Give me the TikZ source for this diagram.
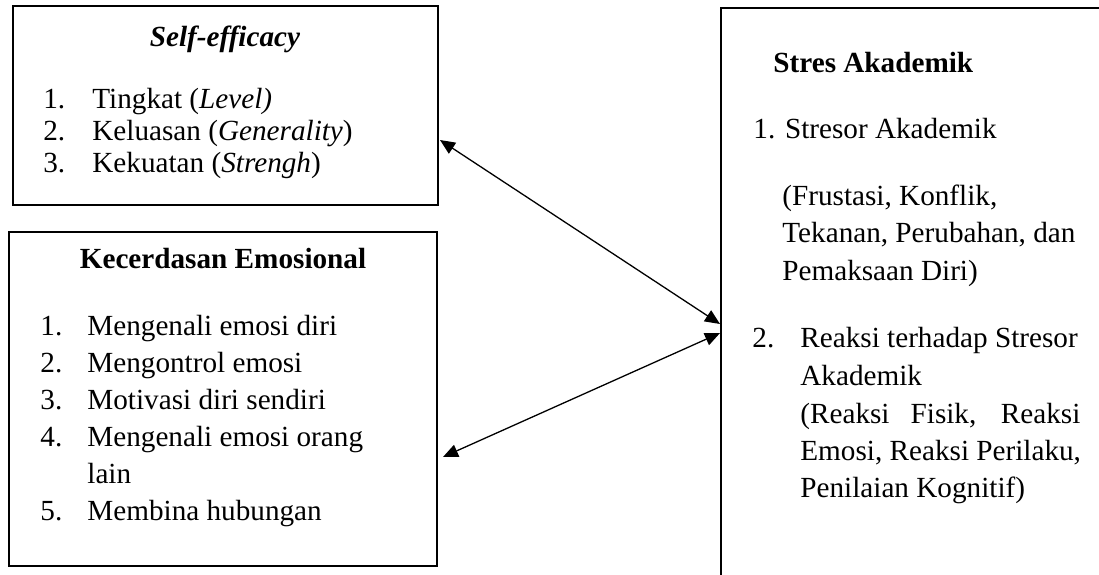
\documentclass[tikz,border=0pt]{standalone}
\usepackage{fontspec}
\setmainfont{Liberation Serif}
\usetikzlibrary{arrows.meta,calc}
\begin{document}
\begin{tikzpicture}[x=0.5pt,y=-0.5pt,
  box/.style={draw, line width=1.2pt, inner sep=0pt, outer sep=0pt, anchor=north west},
  txt/.style={anchor=base west, inner sep=0pt, font=\fontsize{14.6}{17}\selectfont},
  con/.style={line width=0.65pt, {Triangle[length=7.5pt,width=6.5pt]}-{Triangle[length=7.5pt,width=6.5pt]}}]
\clip (0,0) rectangle (1099,574);
% boxes
\node[box, minimum width=212.5pt, minimum height=99.5pt] (se) at (13,6) {};
\node[box, minimum width=214pt, minimum height=167pt] (ke) at (9,232) {};
\node[box, minimum width=200pt, minimum height=300pt] (sa) at (721,8) {};
% Self-efficacy
\node[txt, anchor=base] (se-t) at (225,46) {\textbf{\textit{Self-efficacy}}};
\node[txt] (se-n1) at (43,108) {1.};
\node[txt] (se-1) at (92,108) {Tingkat (\textit{Level)}};
\node[txt] (se-n2) at (43,140) {2.};
\node[txt] (se-2) at (92,140) {Keluasan (\textit{Generality})};
\node[txt] (se-n3) at (43,172) {3.};
\node[txt] (se-3) at (92,172) {Kekuatan (\textit{Strengh})};
% Kecerdasan Emosional
\node[txt, anchor=base] (ke-t) at (223,268) {\textbf{Kecerdasan Emosional}};
\node[txt] (ke-n1) at (40,335) {1.};
\node[txt] (ke-1) at (87,335) {Mengenali emosi diri};
\node[txt] (ke-n2) at (40,372) {2.};
\node[txt] (ke-2) at (87,372) {Mengontrol emosi};
\node[txt] (ke-n3) at (40,409) {3.};
\node[txt] (ke-3) at (87,409) {Motivasi diri sendiri};
\node[txt] (ke-n4) at (40,446) {4.};
\node[txt] (ke-4) at (87,446) {Mengenali emosi orang};
\node[txt] (ke-4b) at (87,483) {lain};
\node[txt] (ke-n5) at (40,520) {5.};
\node[txt] (ke-5) at (87,520) {Membina hubungan};
% Stres Akademik
\node[txt] (sa-t) at (773,72) {\textbf{Stres Akademik}};
\node[txt] (sa-1) at (753,138) {1. Stresor Akademik};
\node[txt] (sa-1a) at (782,205) {(Frustasi, Konflik,};
\node[txt] (sa-1b) at (782,242) {Tekanan, Perubahan, dan};
\node[txt] (sa-1c) at (782,280) {Pemaksaan Diri)};
\node[txt] (sa-n2) at (752,347) {2.};
\node[txt] (sa-2) at (800,347) {Reaksi terhadap Stresor};
\node[txt] (sa-2a) at (800,385) {Akademik};
\node[txt] (sa-2b) at (800,423) {\makebox[140pt][s]{(Reaksi Fisik, Reaksi}};
\node[txt] (sa-2c) at (800,460) {Emosi, Reaksi Perilaku,};
\node[txt] (sa-2d) at (800,497) {Penilaian Kognitif)};
% connectors
\draw[con] ($(se.east)+(2,34.5)$) -- ($(sa.west)+(-1,16)$);
\draw[con] ($(ke.east)+(6,58)$) -- ($(sa.west)+(-1,25)$);
\end{tikzpicture}
\end{document}
